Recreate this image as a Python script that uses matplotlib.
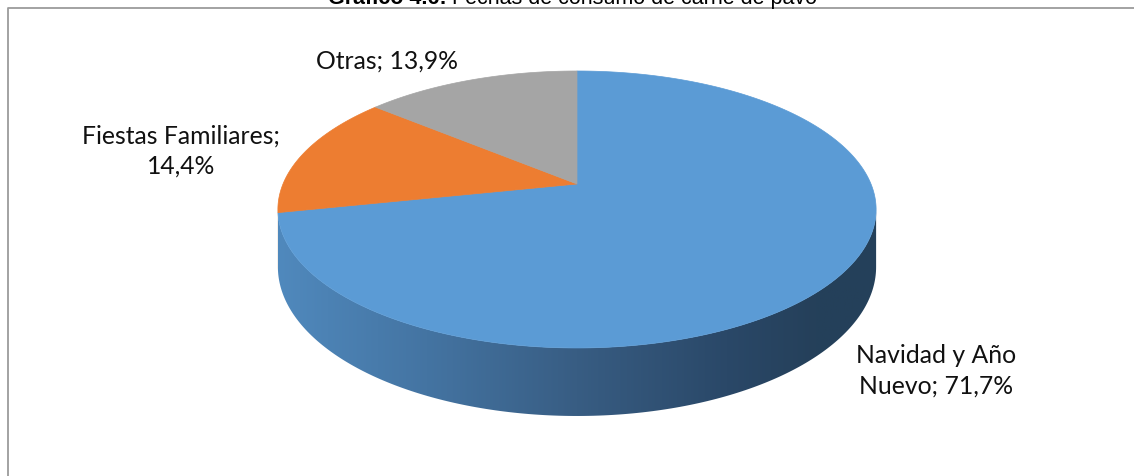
import numpy as np
import matplotlib
matplotlib.use('Agg')
import matplotlib.pyplot as plt
from matplotlib.patches import Polygon
from matplotlib.colors import LinearSegmentedColormap

# datos del gráfico
categorias = ['Navidad y Año Nuevo', 'Fiestas Familiares', 'Otras']
porcentajes = [71.7, 14.4, 13.9]
etiquetas = ['Navidad y Año\nNuevo; 71,7%', 'Fiestas Familiares;\n14,4%', 'Otras; 13,9%']
colores = ['#5b9bd5', '#ed7d31', '#a5a5a5']
titulo_neg = 'Gráfico 4.6:'
titulo = 'Fechas de consumo de carne de pavo'

# geometria de la torta 3D (en pixeles)
cx, cy = 577, 185
a, b = 294, 133.8
k = 0.184          # perspectiva
prof = 55.5        # espesor


def proyectar(t):
    x = np.cos(t)
    y = np.sin(t)
    w = 1 + k * y
    return cx + a * x / w, cy - b * y / w, w


W, H = 1134, 477
fig = plt.figure(figsize=(W / 100, H / 100), dpi=100)
ax = fig.add_axes([0, 0, 1, 1])
ax.set_xlim(0, W)
ax.set_ylim(H, 0)
ax.axis('off')

# angulos de cada porcion (grados, sentido horario desde arriba)
rangos = []
ini = 90.0
for p in porcentajes:
    fin = ini - 360 * p / 100
    rangos.append((fin, ini))
    ini = fin

# pared lateral visible
vis_lo = -180 + np.degrees(np.arcsin(k))
vis_hi = -np.degrees(np.arcsin(k))

grad = LinearSegmentedColormap.from_list('pared', [
    (0.0, '#5089bd'), (0.25, '#4474a2'), (0.5, '#385d83'),
    (0.75, '#2a4868'), (0.9, '#25405a'), (1.0, '#24405a')])
x0, x1 = cx - a * 1.02, cx + a * 1.02

for i, (lo, hi) in enumerate(rangos):
    for sh in (-360, 0, 360):
        l = max(lo + sh, vis_lo)
        h = min(hi + sh, vis_hi)
        if h <= l:
            continue
        t = np.radians(np.linspace(l, h, 200))
        xs, ys, w = proyectar(t)
        yb = ys + prof / w
        pts = np.column_stack([np.r_[xs, xs[::-1]], np.r_[ys, yb[::-1]]])
        if i == 0:
            pol = Polygon(pts, closed=True, facecolor='none', edgecolor='none')
            ax.add_patch(pol)
            img = ax.imshow(np.linspace(0, 1, 256)[None, :], cmap=grad, aspect='auto',
                            extent=(x0, x1, 430, 150), zorder=1)
            img.set_clip_path(pol)
        else:
            ax.add_patch(Polygon(pts, closed=True, facecolor='#b45e25',
                                 edgecolor='none', zorder=1))

# cara superior
for (lo, hi), c in zip(rangos, colores):
    t = np.radians(np.linspace(hi, lo, 300))
    xs, ys, _ = proyectar(t)
    pts = np.column_stack([np.r_[cx, xs], np.r_[cy, ys]])
    ax.add_patch(Polygon(pts, closed=True, facecolor=c, edgecolor=c,
                         linewidth=0.5, zorder=2))

# etiquetas
fuente = 'Lato'
ax.text(387, 61, etiquetas[2], ha='center', va='center', fontsize=17.8,
        family=fuente, color='#111111')
ax.text(181.5, 151, etiquetas[1], ha='center', va='center', fontsize=17.8,
        family=fuente, color='#111111', linespacing=1.38)
ax.text(936, 371, etiquetas[0], ha='center', va='center', fontsize=17.8,
        family=fuente, color='#111111', linespacing=1.38)

# marco del area del grafico
ax.plot([7.5, 7.5, W], [H, 9, 9], color='#9b9b9b', lw=1.3, solid_capstyle='butt')

# titulo (cortado arriba)
r = fig.canvas.get_renderer()
t1 = ax.text(328, 4.3, titulo_neg, ha='left', va='baseline', fontsize=15.5,
             family='Liberation Sans', weight='bold', color='black')
bb = t1.get_window_extent(renderer=r)
xr = ax.transData.inverted().transform((bb.x1, 0))[0]
ax.text(xr + 5, 4.3, titulo, ha='left', va='baseline', fontsize=15.5,
        family='Liberation Sans', color='black')

fig.savefig('out.png', dpi=100)
